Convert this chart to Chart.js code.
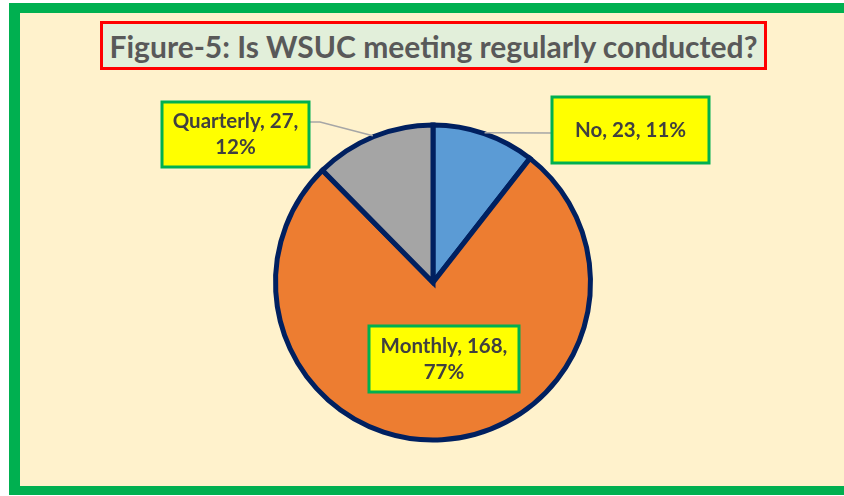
<!DOCTYPE html>
<html>
<head>
<meta charset="utf-8">
<script src="https://cdn.jsdelivr.net/npm/chart.js@4.4.1/dist/chart.umd.min.js"></script>
<style>
  html, body { margin: 0; padding: 0; width: 844px; height: 496px; overflow: hidden; background: #ffffff; }
  #frame {
    position: absolute; left: 9px; top: 3px; width: 860px; height: 473px;
    background: #FFF2CC;
    border-top: 10px solid #00B050; border-left: 11px solid #00B050; border-bottom: 9px solid #00B050;
  }
  #title {
    position: absolute; left: 100px; top: 21px; width: 661px; height: 43px;
    border: 3px solid #FF0000; background: #E2EFDA;
    font-family: Lato, "Open Sans", sans-serif; font-weight: 700; font-size: 30px;
    color: #595959; text-align: center; line-height: 45px; white-space: nowrap;
  }
  #wrap { position: absolute; left: 0; top: 0; width: 844px; height: 496px; }
</style>
</head>
<body>
<div id="frame"></div>
<div id="title">Figure-5: Is WSUC meeting regularly conducted?</div>
<div id="wrap"><canvas id="c" width="844" height="496"></canvas></div>
<script>
// ---- data ----
const titleText = "Figure-5: Is WSUC meeting regularly conducted?";
const categories = ["No", "Monthly", "Quarterly"];
const counts = [23, 168, 27];
const sliceColors = ["#5B9BD5", "#ED7D31", "#A5A5A5"];

// ---- label layout (style, relative to pie centre) ----
const labelBoxes = [
  { dx: 197.5, dy: -152.5, w: 157, h: 66, leader: { side: "left", ay: 3, elbow: 0 } },
  { dx: 11, dy: 76.5, w: 150, h: 66, leader: null },
  { dx: -197.5, dy: -148, w: 147, h: 65, leader: { side: "right", ay: -12.5, elbow: 11 } }
];

const total = counts.reduce((a, b) => a + b, 0);
const pcts = counts.map(v => Math.round(v / total * 100));

const labelPlugin = {
  id: "pieLabels",
  afterDatasetsDraw(chart) {
    const ctx = chart.ctx;
    const meta = chart.getDatasetMeta(0);
    ctx.save();
    meta.data.forEach((arc, i) => {
      const p = arc.getProps(["x", "y", "startAngle", "endAngle", "outerRadius"], true);
      const mid = (p.startAngle + p.endAngle) / 2;
      const lb = labelBoxes[i];
      const cx = p.x + lb.dx, cy = p.y + lb.dy;
      const left = cx - lb.w / 2, top = cy - lb.h / 2;
      if (lb.leader) {
        const ex = p.x + Math.cos(mid) * (p.outerRadius + 1);
        const ey = p.y + Math.sin(mid) * (p.outerRadius + 1);
        const bx = lb.leader.side === "left" ? left : left + lb.w;
        const by = cy + lb.leader.ay;
        const kx = lb.leader.side === "left" ? bx - lb.leader.elbow : bx + lb.leader.elbow;
        ctx.beginPath();
        ctx.strokeStyle = "#A6A6A6";
        ctx.lineWidth = 1.5;
        ctx.moveTo(ex, ey);
        ctx.lineTo(kx, by);
        ctx.lineTo(bx, by);
        ctx.stroke();
      }
      ctx.fillStyle = "#FFFF00";
      ctx.fillRect(left, top, lb.w, lb.h);
      ctx.strokeStyle = "#00B050";
      ctx.lineWidth = 3;
      ctx.strokeRect(left, top, lb.w, lb.h);
      ctx.font = "700 20.5px Lato, 'Open Sans', sans-serif";
      ctx.fillStyle = "#404040";
      ctx.textAlign = "center";
      ctx.textBaseline = "middle";
      const full = categories[i] + ", " + counts[i] + ", " + pcts[i] + "%";
      let lines = [full];
      if (ctx.measureText(full).width > lb.w - 16) {
        lines = [categories[i] + ", " + counts[i] + ",", pcts[i] + "%"];
      }
      const lh = 26;
      lines.forEach((t, k) => {
        ctx.fillText(t, cx, cy + (k - (lines.length - 1) / 2) * lh);
      });
    });
    ctx.restore();
  }
};

new Chart(document.getElementById("c"), {
  type: "pie",
  data: {
    labels: categories,
    datasets: [{
      data: counts,
      backgroundColor: sliceColors,
      borderColor: "#002060",
      borderWidth: 5,
      borderJoinStyle: "miter"
    }]
  },
  options: {
    responsive: false,
    animation: false,
    events: [],
    layout: { padding: { left: 273, right: 251, top: 122.5, bottom: 53.5 } },
    plugins: {
      legend: { display: false },
      title: { display: false, text: titleText },
      tooltip: { enabled: false }
    }
  },
  plugins: [labelPlugin]
});
</script>
</body>
</html>
